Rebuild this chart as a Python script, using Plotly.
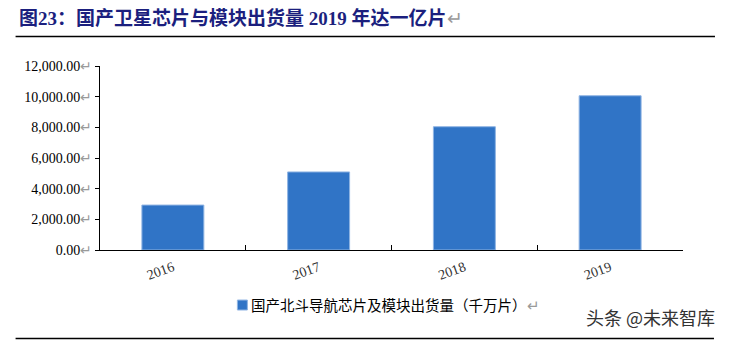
import plotly.graph_objects as go

# ---- data ----
years = ["2016", "2017", "2018", "2019"]
shipments = [2930, 5090, 8040, 10060]  # 千万片
series_name = "国产北斗导航芯片及模块出货量（千万片）"
y_ticks = [0, 2000, 4000, 6000, 8000, 10000, 12000]
title_text = "图23：国产卫星芯片与模块出货量 2019 年达一亿片"
watermark = "头条 @未来智库"

W, H = 730, 340
L, R, T, B = 99.5, 683.0, 65.7, 250.3
ARROW = "<span style='color:#9a9a9a'>↵</span>"


def px(x):
    return (x - L) / (R - L)


def py(y):
    return (B - y) / (B - T)


BAR_COLOR = "#3074c6"
SERIF = "Liberation Serif, Times New Roman, serif"
CJK = "Noto Sans CJK SC, sans-serif"

fig = go.Figure()
fig.add_trace(go.Bar(
    x=years, y=shipments, name=series_name,
    marker=dict(color=BAR_COLOR, line=dict(color="#8fb4e3", width=1)),
    showlegend=False,
))

fig.update_layout(
    width=W, height=H,
    margin=dict(l=L, r=W - R, t=T, b=H - B, pad=0),
    paper_bgcolor="white", plot_bgcolor="white",
    bargap=0.575,
    showlegend=False,
)

fig.update_yaxes(
    range=[0, 12000],
    tickvals=y_ticks,
    ticktext=[f"{v:,.2f}" + ARROW for v in y_ticks],
    tickfont=dict(family=SERIF, size=14, color="#000"),
    showline=True, linecolor="#000", linewidth=1,
    ticks="outside", ticklen=4, tickcolor="#000",
    showgrid=False, zeroline=False,
)
fig.update_xaxes(
    showline=True, linecolor="#000", linewidth=1,
    ticks="inside", ticklen=5, tickcolor="#000", tickson="boundaries",
    tickangle=-20,
    tickfont=dict(family=SERIF, size=14, color="#333"),
    ticklabelstandoff=3,
    showgrid=False,
)

# title + rules
fig.add_annotation(
    text="<b>" + title_text + "</b>" + ARROW,
    xref="paper", yref="paper", x=px(16), y=py(18),
    xanchor="left", yanchor="middle", showarrow=False,
    font=dict(family="Liberation Serif, Noto Sans CJK SC", size=19, color="#1b1f7e"),
)
fig.add_shape(type="line", xref="paper", yref="paper",
              x0=px(15), x1=px(715), y0=py(36), y1=py(36),
              line=dict(color="#000", width=1.5))
fig.add_shape(type="line", xref="paper", yref="paper",
              x0=px(15), x1=px(714), y0=py(339), y1=py(339),
              line=dict(color="#000", width=1.5))

# legend (square + label)
fig.add_shape(type="rect", xref="paper", yref="paper",
              x0=px(237), x1=px(247), y0=py(300.5), y1=py(310.5),
              fillcolor=BAR_COLOR, line=dict(color="#8fb4e3", width=1))
fig.add_annotation(
    text=series_name + ARROW,
    xref="paper", yref="paper", x=px(249), y=py(305),
    xanchor="left", yanchor="middle", showarrow=False,
    font=dict(family=CJK, size=14.5, color="#000"),
)

# watermark
fig.add_annotation(
    text=watermark,
    xref="paper", yref="paper", x=px(584), y=py(318),
    xanchor="left", yanchor="middle", showarrow=False,
    font=dict(family=CJK, size=18, color="#333"),
)

fig.write_html("out.html")
